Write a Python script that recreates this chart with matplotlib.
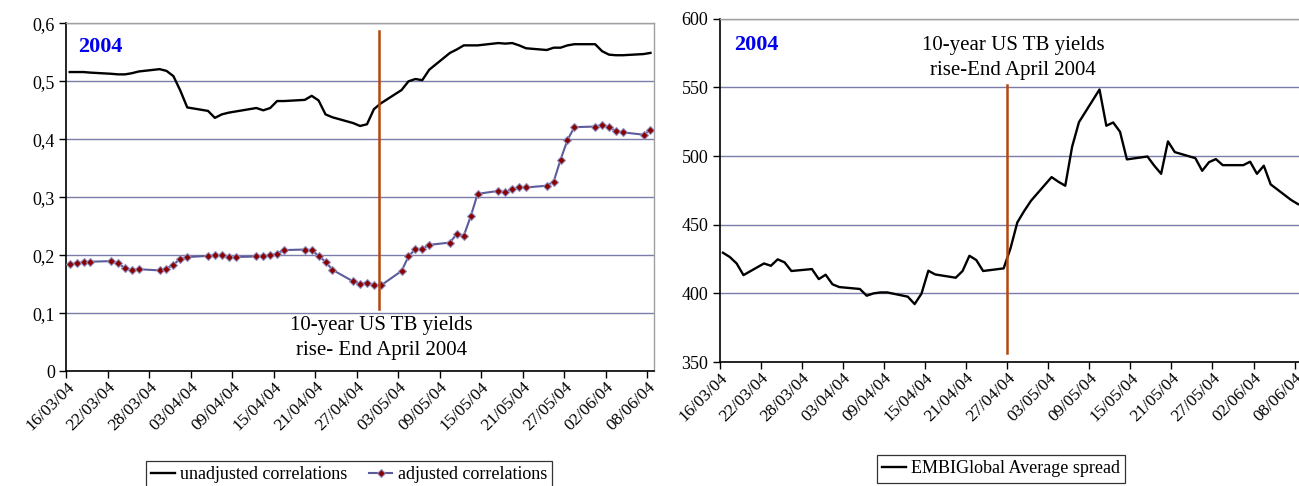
import matplotlib
matplotlib.use("Agg")
import matplotlib.pyplot as plt
import matplotlib.dates as mdates
import pandas as pd

plt.rcParams["font.family"] = ["Liberation Serif", "DejaVu Serif"]

# Trading days, 16 March - 8 June 2004
trade_days = [
    "2004-03-16", "2004-03-17", "2004-03-18", "2004-03-19",
    "2004-03-22", "2004-03-23", "2004-03-24", "2004-03-25", "2004-03-26",
    "2004-03-29", "2004-03-30", "2004-03-31", "2004-04-01", "2004-04-02",
    "2004-04-05", "2004-04-06", "2004-04-07", "2004-04-08", "2004-04-09",
    "2004-04-12", "2004-04-13", "2004-04-14", "2004-04-15", "2004-04-16",
    "2004-04-19", "2004-04-20", "2004-04-21", "2004-04-22", "2004-04-23",
    "2004-04-26", "2004-04-27", "2004-04-28", "2004-04-29", "2004-04-30",
    "2004-05-03", "2004-05-04", "2004-05-05", "2004-05-06", "2004-05-07",
    "2004-05-10", "2004-05-11", "2004-05-12", "2004-05-13", "2004-05-14",
    "2004-05-17", "2004-05-18", "2004-05-19", "2004-05-20", "2004-05-21",
    "2004-05-24", "2004-05-25", "2004-05-26", "2004-05-27", "2004-05-28",
    "2004-05-31", "2004-06-01", "2004-06-02", "2004-06-03", "2004-06-04",
    "2004-06-07", "2004-06-08",
]

unadjusted = [
    0.516, 0.516, 0.516, 0.515,
    0.513, 0.512, 0.512, 0.514, 0.517,
    0.521, 0.518, 0.509, 0.484, 0.455,
    0.449, 0.437, 0.443, 0.446, 0.448,
    0.454, 0.450, 0.454, 0.466, 0.466,
    0.468, 0.475, 0.467, 0.443, 0.438,
    0.428, 0.423, 0.426, 0.452, 0.462,
    0.485, 0.500, 0.504, 0.502, 0.520,
    0.549, 0.555, 0.562, 0.562, 0.562,
    0.566, 0.565, 0.566, 0.562, 0.557,
    0.554, 0.558, 0.558, 0.562, 0.564,
    0.564, 0.552, 0.546, 0.545, 0.545,
    0.547, 0.549,
]

adjusted = [
    0.185, 0.186, 0.188, 0.189,
    0.190, 0.186, 0.178, 0.175, 0.176,
    0.174, 0.177, 0.184, 0.194, 0.197,
    0.199, 0.200, 0.200, 0.197, 0.197,
    0.198, 0.199, 0.200, 0.203, 0.209,
    0.210, 0.209, 0.199, 0.189, 0.175,
    0.155, 0.151, 0.153, 0.149, 0.148,
    0.173, 0.198, 0.211, 0.211, 0.218,
    0.222, 0.237, 0.234, 0.267, 0.306,
    0.311, 0.309, 0.314, 0.318, 0.317,
    0.320, 0.327, 0.365, 0.399, 0.421,
    0.422, 0.425, 0.421, 0.414, 0.412,
    0.408, 0.416,
]

embi_spread = [
    429.6, 426.5, 421.8, 413.3,
    421.8, 420.1, 424.8, 422.6, 416.3,
    417.7, 410.4, 413.6, 406.6, 404.6,
    403.2, 398.3, 400.0, 400.7, 400.7,
    397.6, 392.2, 399.8, 416.5, 413.8,
    411.4, 416.3, 427.4, 424.3, 416.3,
    418.2, 432.8, 451.7, 460.0, 467.5,
    484.7, 481.3, 478.4, 506.8, 524.7,
    548.5, 522.1, 524.5, 517.7, 497.6,
    499.7, 493.0, 487.1, 510.7, 502.9,
    498.5, 489.3, 495.6, 497.8, 493.4,
    493.4, 495.9, 487.1, 493.0, 479.4,
    468.0, 465.0,
]

tick_labels = [
    "16/03/04", "22/03/04", "28/03/04", "03/04/04", "09/04/04",
    "15/04/04", "21/04/04", "27/04/04", "03/05/04", "09/05/04",
    "15/05/04", "21/05/04", "27/05/04", "02/06/04", "08/06/04",
]

# each observation sits in the middle of its day on the date axis
x = mdates.date2num(pd.to_datetime(trade_days)) + 0.5
tick_pos = mdates.date2num(pd.to_datetime(tick_labels, format="%d/%m/%y"))
x_start = mdates.date2num(pd.Timestamp("2004-03-16"))
x_end = mdates.date2num(pd.Timestamp("2004-06-09"))

GRID = "#7c7caa"
FRAME = "#a0a0a0"
MARK = "#b4470f"
BLUE = "#0000ee"

fig = plt.figure(figsize=(12.99, 4.86), dpi=100)
ax1 = fig.add_axes([0.0510, 0.236, 0.4524, 0.716])
ax2 = fig.add_axes([0.5539, 0.2551, 0.4480, 0.7062])


def style_axes(ax):
    ax.set_xlim(x_start, x_end)
    ax.set_xticks(tick_pos)
    ax.set_xticklabels(tick_labels, rotation=45, ha="right",
                       rotation_mode="anchor", fontsize=12.5)
    ax.tick_params(axis="x", direction="out", length=5, width=1,
                   pad=0.5, color="black")
    ax.tick_params(axis="y", direction="out", length=5, width=1,
                   pad=3, labelsize=13, color="black")
    ax.spines["left"].set_color("black")
    ax.spines["bottom"].set_color("black")
    ax.spines["left"].set_linewidth(1.2)
    ax.spines["bottom"].set_linewidth(1.2)
    for side in ("top", "right"):
        ax.spines[side].set_color(FRAME)
        ax.spines[side].set_linewidth(1.0)
    ax.grid(axis="y", color=GRID, linewidth=1.0)
    ax.set_axisbelow(True)


# left panel: correlations
style_axes(ax1)
ax1.set_ylim(0, 0.6)
ax1.set_yticks([0, 0.1, 0.2, 0.3, 0.4, 0.5, 0.6])
ax1.set_yticklabels(["0", "0,1", "0,2", "0,3", "0,4", "0,5", "0,6"])
ax1.plot(x, unadjusted, color="black", linewidth=1.7,
         label="unadjusted correlations", zorder=3)
ax1.plot(x, adjusted, color="#5c5c9c", linewidth=1.5, marker="D",
         markersize=4, markerfacecolor="#8b0000", markeredgecolor="#9090c0",
         markeredgewidth=0.8, label="adjusted correlations", zorder=3)
ax1.plot([45.3 + x_start] * 2, [0.107, 0.587], color=MARK, linewidth=1.8,
         zorder=4)
ax1.text(45.6 + x_start, 0.0574, "10-year US TB yields\nrise- End April 2004",
         ha="center", va="center", fontsize=15, linespacing=1.45)
ax1.text(0.02, 0.932, "2004", transform=ax1.transAxes, color=BLUE,
         fontsize=16, fontweight="bold", va="center", ha="left")

# right panel: EMBI Global spread
style_axes(ax2)
ax2.spines["right"].set_visible(False)
ax2.set_ylim(350, 600)
ax2.set_yticks([350, 400, 450, 500, 550, 600])
ax2.plot(x, embi_spread, color="black", linewidth=1.7,
         label="EMBIGlobal Average spread", zorder=3)
ax2.plot([42.0 + x_start] * 2, [356.8, 551.6], color=MARK, linewidth=1.8,
         zorder=4)
ax2.text(42.9 + x_start, 571.2, "10-year US TB yields\nrise-End April 2004",
         ha="center", va="center", fontsize=15, linespacing=1.45)
ax2.text(0.025, 0.923, "2004", transform=ax2.transAxes, color=BLUE,
         fontsize=16, fontweight="bold", va="center", ha="left")

legend_style = dict(frameon=True, fancybox=False, edgecolor="black",
                    fontsize=13, handlelength=1.3, handletextpad=0.3,
                    borderpad=0.3, borderaxespad=0.0)
h1, l1 = ax1.get_legend_handles_labels()
leg1 = fig.legend(h1, l1, loc="upper center", ncol=2, columnspacing=1.2,
                  bbox_to_anchor=(0.2687, 0.0514), **legend_style)
leg1.get_frame().set_linewidth(0.9)
h2, l2 = ax2.get_legend_handles_labels()
leg2 = fig.legend(h2, l2, loc="upper center",
                  bbox_to_anchor=(0.7706, 0.0638), **legend_style)
leg2.get_frame().set_linewidth(0.9)

fig.savefig("out.png", dpi=100)
